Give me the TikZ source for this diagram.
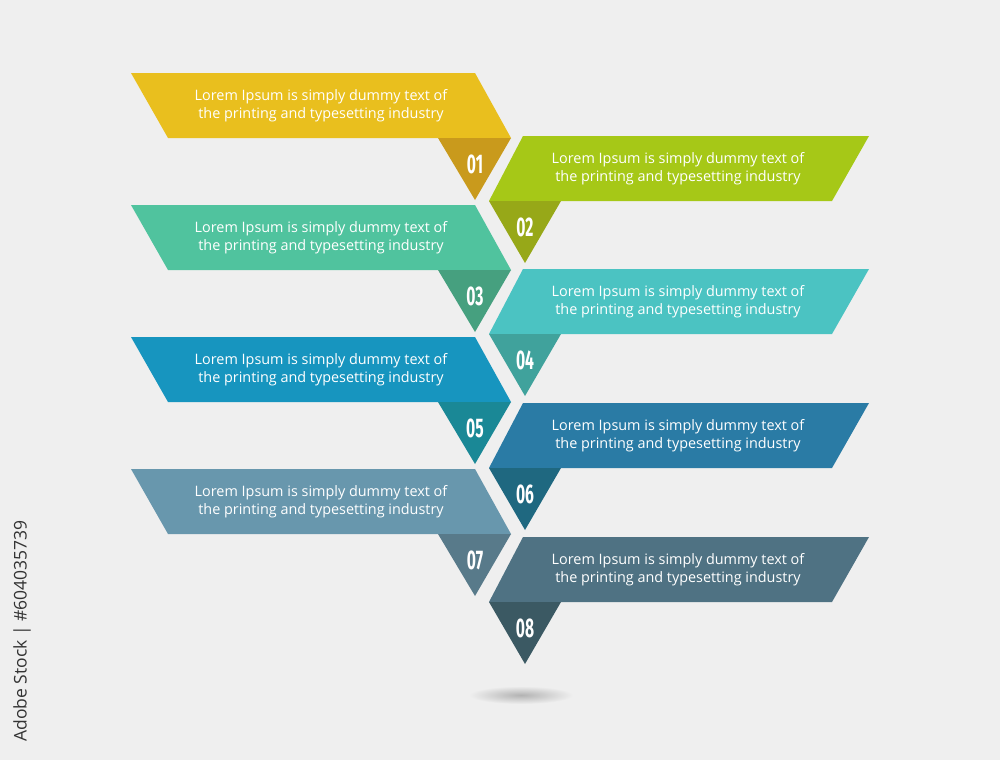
\documentclass[tikz,border=0pt]{standalone}
\usepackage{xcolor}
\usepackage{fontspec}
\setmainfont{Open Sans}
\newfontfamily\numfont[FakeStretch=0.58]{Fira Sans}
\usepackage{tikz}

\definecolor{bg}{HTML}{EFEFEF}
\definecolor{band1}{HTML}{E9BF1E}
\definecolor{fold1}{HTML}{C99A1C}
\definecolor{band2}{HTML}{A6C817}
\definecolor{fold2}{HTML}{97A818}
\definecolor{band3}{HTML}{50C39E}
\definecolor{fold3}{HTML}{46A07F}
\definecolor{band4}{HTML}{4BC3C2}
\definecolor{fold4}{HTML}{40A29C}
\definecolor{band5}{HTML}{1795BF}
\definecolor{fold5}{HTML}{1A8896}
\definecolor{band6}{HTML}{2A7BA5}
\definecolor{fold6}{HTML}{1F6880}
\definecolor{band7}{HTML}{6897AD}
\definecolor{fold7}{HTML}{587A8A}
\definecolor{band8}{HTML}{4F7283}
\definecolor{fold8}{HTML}{3B5963}

\begin{document}
\begin{tikzpicture}[
  x=1pt, y=-1pt,
  lorem/.style={text=white, align=center, inner sep=0pt,
    font=\fontsize{14.4}{18.5}\selectfont},
  num/.style={text=white, inner sep=0pt, font=\numfont\bfseries\fontsize{27}{27}\selectfont},
  stockid/.style={text=black!80, rotate=90, inner sep=0pt,
    font=\fontsize{17.5}{17.5}\selectfont}
]
\useasboundingbox (0,0) rectangle (1000,760);
\fill[bg] (0,0) rectangle (1000,760);

% left bands
\foreach \y/\n in {73/1, 205/3, 337/5, 469/7} {
  \fill[band\n] (131,\y) -- (475,\y) -- (511,\y+65) -- (168,\y+65) -- cycle;
  \fill[fold\n] (438,\y+65) -- (511,\y+65) -- (475,\y+127) -- cycle;
  \node[lorem] (text\n) at (321,\y+32.5)
    {Lorem Ipsum is simply dummy text of\\the printing and typesetting industry};
  \node[num] (num\n) at (475,\y+91) {0\n};
}

% right bands
\foreach \y/\n in {136/2, 269/4, 403/6, 537/8} {
  \fill[band\n] (523,\y) -- (869,\y) -- (832,\y+65) -- (489,\y+65) -- cycle;
  \fill[fold\n] (489,\y+65) -- (561,\y+65) -- (525,\y+127) -- cycle;
  \node[lorem] (text\n) at (678,\y+32.5)
    {Lorem Ipsum is simply dummy text of\\the printing and typesetting industry};
  \node[num] (num\n) at (525,\y+91) {0\n};
}

% shadow
\shade[inner color=black!30, outer color=bg] (521,695) ellipse (52 and 9);

\node[stockid] (stock) at (22,631) {Adobe Stock | \#604035739};
\end{tikzpicture}
\end{document}
